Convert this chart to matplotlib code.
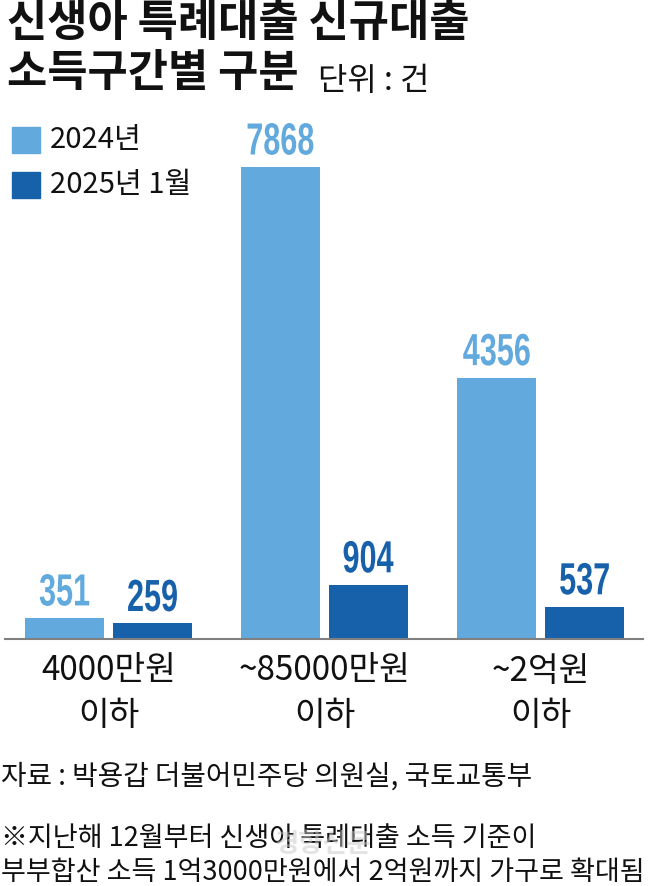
import matplotlib
matplotlib.use("Agg")
import matplotlib.pyplot as plt
import matplotlib.transforms as mtransforms
from matplotlib.textpath import TextPath
from matplotlib.patches import PathPatch
from matplotlib.font_manager import FontProperties
import numpy as np

plt.rcParams['font.family'] = ['Noto Sans CJK KR', 'DejaVu Sans']

# 데이터
categories = ["4000만원\n이하", "~85000만원\n이하", "~2억원\n이하"]
series_names = ["2024년", "2025년 1월"]
values_2024 = [351, 7868, 4356]
values_2025 = [259, 904, 537]

light = "#62A9DD"
dark = "#1761AB"

W, H = 648, 886
fig = plt.figure(figsize=(W / 100, H / 100), dpi=100)

# 축 (픽셀 기준 배치)
ax_left, ax_right = 5, 643
ax_bottom, ax_top = 639, 100
ax = fig.add_axes([ax_left / W, 1 - ax_bottom / H, (ax_right - ax_left) / W, (ax_bottom - ax_top) / H])

group_px = 216.0
x = np.arange(len(categories))
bw = 79 / group_px
off = 44 / group_px

b1 = ax.bar(x - off, values_2024, width=bw, color=light)
b2 = ax.bar(x + off, values_2025, width=bw, color=dark)

ax.set_xlim(-103.5 / group_px, (643 - 108.5) / group_px)
ax.set_ylim(0, (ax_bottom - ax_top) / 0.06)

# 값 라벨 - 좁은 글꼴 흉내 (가로로 눌러서 그림)
num_prop = FontProperties(family="Liberation Sans", weight="bold")

def narrow_label(xd, yd, s, color, size=45, sx=0.68, gap=12):
    tp = TextPath((0, 0), s, size=size, prop=num_prop)
    bb = tp.get_extents()
    tr = (mtransforms.Affine2D().translate(-(bb.x0 + bb.x1) / 2, -bb.y0).scale(sx, 1).translate(0, gap)
          + mtransforms.ScaledTranslation(xd, yd, ax.transData))
    ax.add_artist(PathPatch(tp, transform=tr, color=color, lw=0, clip_on=False))

for bars, vals, c in [(b1, values_2024, light), (b2, values_2025, dark)]:
    for r, v in zip(bars, vals):
        narrow_label(r.get_x() + r.get_width() / 2, v, f"{v}", c)

for s in ["top", "left", "right"]:
    ax.spines[s].set_visible(False)
ax.spines["bottom"].set_color("#808080")
ax.spines["bottom"].set_linewidth(1.5)
ax.set_xticks([])
ax.set_yticks([])

# 카테고리 라벨 (막대 그룹 아래 가운데)
for xi, lab in zip(x, categories):
    l1, l2 = lab.split("\n")
    ax.annotate(l1, (xi, 0), xycoords=ax.get_xaxis_transform(), xytext=(0, -32 * 0.72),
                textcoords="offset points", ha="center", va="center", fontsize=24, color="#111111")
    ax.annotate(l2, (xi, 0), xycoords=ax.get_xaxis_transform(), xytext=(0, -77 * 0.72),
                textcoords="offset points", ha="center", va="center", fontsize=24, color="#111111")

# 제목
fig.text(7 / W, 1 - 23 / H, "신생아 특례대출 신규대출", ha="left", va="center",
         fontsize=31.5, fontweight="bold", color="#111111")
fig.text(7 / W, 1 - 73 / H, "소득구간별 구분", ha="left", va="center",
         fontsize=31.5, fontweight="bold", color="#111111")
fig.text(318 / W, 1 - 81 / H, "단위 : 건", ha="left", va="center", fontsize=23, color="#111111")

# 범례
for yy, c, name in [(140, light, series_names[0]), (185, dark, series_names[1])]:
    fig.patches.append(plt.Rectangle((12 / W, 1 - (yy + 13) / H), 28 / W, 26 / H,
                                     transform=fig.transFigure, color=c))
    fig.text(50 / W, 1 - yy / H, name, ha="left", va="center", fontsize=21, color="#111111")

# 출처 / 주석
fig.text(1 / W, 1 - 777 / H, "자료 : 박용갑 더불어민주당 의원실, 국토교통부", ha="left", va="center",
         fontsize=20, color="#111111")
fig.text(1 / W, 1 - 838 / H, "※지난해 12월부터 신생아 특례대출 소득 기준이", ha="left", va="center",
         fontsize=19.5, color="#111111")
fig.text(1 / W, 1 - 872 / H, "부부합산 소득 1억3000만원에서 2억원까지 가구로 확대됨", ha="left", va="center",
         fontsize=19.5, color="#111111")
fig.text(323 / W, 1 - 845 / H, "경향신문", ha="center", va="center", fontsize=19,
         fontweight="bold", color="#c8c8c8", alpha=0.5)

fig.savefig("out.png", dpi=100)
